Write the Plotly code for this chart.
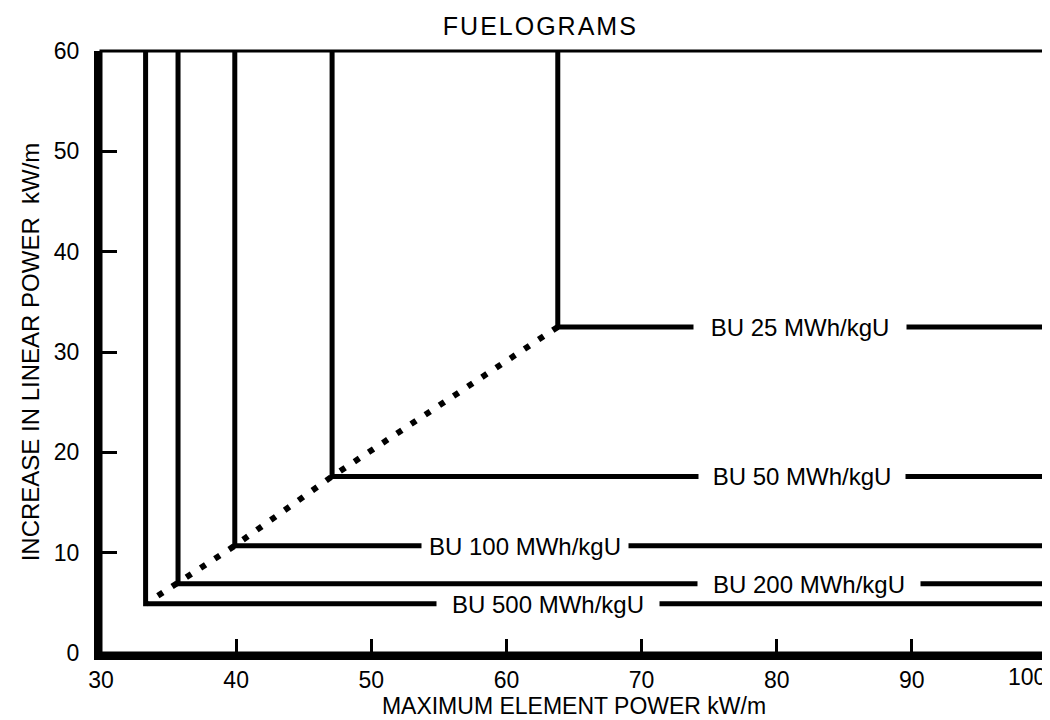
import plotly.graph_objects as go

# Data
burnup = [25, 50, 100, 200, 500]                 # MWh/kgU
x_corner = [63.8, 47.1, 39.9, 35.7, 33.3]        # maximum element power kW/m
y_corner = [32.5, 17.6, 10.7, 6.9, 4.9]          # increase in linear power kW/m
label_x = [81.7, 81.9, 61.4, 82.4, 63.1]         # label centres along each line
x_ticks = [30, 40, 50, 60, 70, 80, 90, 100]
y_ticks = [0, 10, 20, 30, 40, 50, 60]

X_MAX, Y_MAX = 100, 60
gap_px = [212, 206, 206, 222, 222]
FONT = "Liberation Sans, Arial, Helvetica, sans-serif"

fig = go.Figure()

# Dotted envelope through the corner points
fig.add_trace(go.Scatter(
    x=x_corner, y=y_corner, mode="lines",
    line=dict(color="black", width=6, dash="6px,11px"),
    hoverinfo="skip", showlegend=False))

# Fuelogram step lines
for xc, yc in zip(x_corner, y_corner):
    fig.add_trace(go.Scatter(
        x=[xc, xc, X_MAX], y=[Y_MAX, yc, yc], mode="lines",
        line=dict(color="black", width=5),
        hoverinfo="skip", showlegend=False))

annotations = []
for bu, lx, yc, w in zip(burnup, label_x, y_corner, gap_px):
    annotations.append(dict(
        x=lx, y=yc, xref="x", yref="y", text=f"BU {bu} MWh/kgU",
        showarrow=False, bgcolor="white", width=w, height=28, borderpad=0,
        font=dict(family=FONT, size=24, color="black"),
        xanchor="center", yanchor="middle"))

# last x tick label sits just inside the right border (as in the original)
annotations.append(dict(
    x=x_ticks[-1], y=0, xref="x", yref="paper", text=str(x_ticks[-1]),
    showarrow=False, xanchor="right", yanchor="top", xshift=0, yshift=-10,
    borderpad=0, font=dict(family=FONT, size=23, color="black")))

fig.update_layout(
    width=1050, height=720,
    margin=dict(l=93, r=11, t=43, b=68),
    paper_bgcolor="white", plot_bgcolor="white",
    font=dict(family=FONT, color="black", size=23),
    title=dict(text='<span style="letter-spacing:2px">FUELOGRAMS</span>',
               x=0.507, xref="container", xanchor="center",
               y=0.975, yref="container", yanchor="middle",
               font=dict(family=FONT, size=25, color="black")),
    annotations=annotations,
    shapes=[dict(type="rect", xref="paper", yref="paper", x0=0, y0=0, x1=1, y1=1,
                 line=dict(color="black", width=3), layer="above")],
)

fig.update_xaxes(
    range=[30, X_MAX], tickvals=x_ticks,
    ticktext=[str(v) for v in x_ticks[:-1]] + [""],
    showgrid=False, zeroline=False,
    showline=True, linewidth=7, linecolor="black",
    ticks="inside", ticklen=14, tickwidth=3, tickcolor="black",
    tickfont=dict(family=FONT, size=23, color="black"),
    title=dict(text="MAXIMUM ELEMENT POWER kW/m", standoff=8,
               font=dict(family=FONT, size=23, color="black")),
)
fig.update_yaxes(
    range=[0, Y_MAX], tickvals=y_ticks, ticktext=[str(v) for v in y_ticks],
    showgrid=False, zeroline=False,
    showline=True, linewidth=7, linecolor="black",
    ticks="inside", ticklen=16, tickwidth=3, tickcolor="black",
    ticklabelstandoff=10,
    tickfont=dict(family=FONT, size=23, color="black"),
    title=dict(text="INCREASE IN LINEAR POWER\u00a0 kW/m", standoff=10,
               font=dict(family=FONT, size=24, color="black")),
)

fig.write_html("out.html")
